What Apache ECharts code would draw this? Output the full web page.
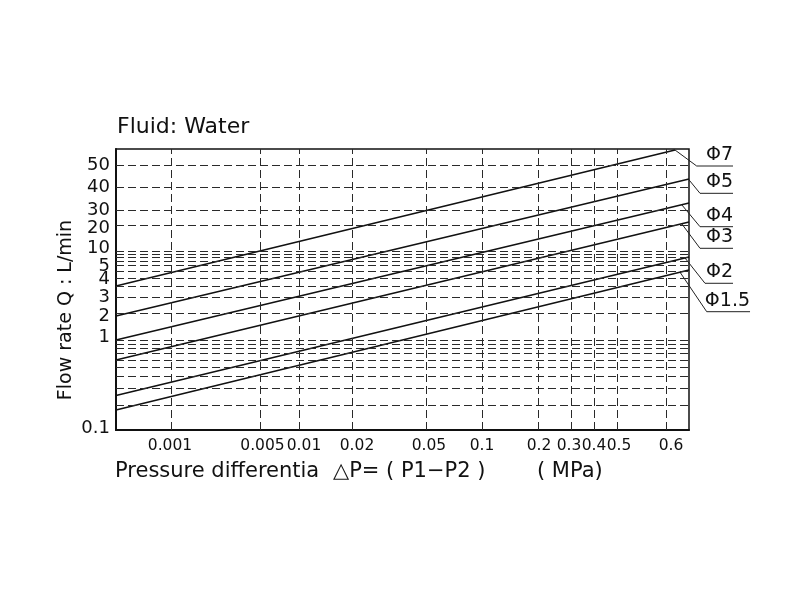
<!DOCTYPE html>
<html><head><meta charset="utf-8">
<script src="https://cdn.jsdelivr.net/npm/echarts@6/dist/echarts.min.js"></script>
<style>html,body{margin:0;padding:0;background:#fff}#c{width:800px;height:600px}</style>
</head><body><div id="c"></div>
<script>
// Chart position scale: both axes run 0..100 across the (non-uniform) printed grid.
const seriesNames = ['Φ7', 'Φ5', 'Φ4', 'Φ3', 'Φ2', 'Φ1.5'];
const lineFrom = [[0, 51.25], [0, 40.57], [0, 32.03], [0, 24.91], [0, 12.28], [0, 7.12]];
const lineTo = [[97.56, 99.64], [100, 89.32], [100, 80.78], [100, 74.02], [100, 61.57], [100, 56.94]];
const leaderStartX = [97.56, 99.9, 98.73, 98.73, 99.3, 98.43];
const leaderElbow = [[101.34, 93.95], [101.92, 84.23], [101.92, 72.35], [101.92, 64.66], [102.79, 52.21], [103.09, 42.10]];
const leaderEndX = [107.68, 107.68, 107.68, 107.68, 107.68, 110.65];

const xTickLabels = ['0.001', '0.005', '0.01', '0.02', '0.05', '0.1', '0.2', '0.3', '0.4', '0.5', '0.6'];
const xLabelPos = [9.42, 25.57, 32.81, 42.06, 54.62, 63.87, 73.82, 79.06, 83.42, 87.78, 96.86];
const xGridPos = [9.72, 25.13, 32.02, 41.19, 54.22, 64.0, 73.7, 79.41, 83.42, 87.49, 96.11];

const yTickLabels = ['50', '40', '30', '20', '10', '5', '4', '3', '2', '1', '0.1'];
const yTickPos = [94.31, 86.48, 78.29, 71.89, 64.77, 58.36, 53.74, 47.33, 40.57, 33.10, 0.7];
const yGridPos = [94.31, 86.23, 78.29, 72.95, 63.70, 62.53, 61.32, 60.14, 58.72, 56.33, 53.99, 51.0, 47.08, 41.53,
  32.03, 30.60, 29.07, 27.30, 24.91, 22.31, 18.97, 14.84, 8.90];

const FONT = '"DejaVu Sans", sans-serif';
const chart = echarts.init(document.getElementById('c'), null, { renderer: 'canvas' });

function lookup(vals, labels) {
  return function (v) {
    let best = 0, d = Infinity;
    vals.forEach((p, i) => { const dd = Math.abs(p - v); if (dd < d) { d = dd; best = i; } });
    return d < 0.05 ? labels[best] : '';
  };
}
function yOnLine(i, x) {
  const a = lineFrom[i], b = lineTo[i];
  return a[1] + (b[1] - a[1]) * (x - a[0]) / (b[0] - a[0]);
}

const gridLineStyle = { color: '#2a2a2a', width: 1, type: [8, 4] };
const series = [];
series.push({
  type: 'line', name: 'grid', data: [], silent: true, animation: false,
  markLine: {
    silent: true, animation: false, symbol: ['none', 'none'], label: { show: false },
    lineStyle: gridLineStyle,
    data: xGridPos.map(v => ({ xAxis: v })).concat(yGridPos.map(v => ({ yAxis: v })))
  }
});
seriesNames.forEach((n, i) => {
  series.push({
    type: 'line', name: n, data: [lineFrom[i], lineTo[i]], symbol: 'none', silent: true, animation: false,
    lineStyle: { color: '#111', width: 1.7 }
  });
});

chart.setOption({
  backgroundColor: '#fff',
  animation: false,
  grid: { left: 116, top: 149, width: 573, height: 281, show: true, borderColor: '#111', borderWidth: 1.5 },
  xAxis: {
    type: 'value', min: 0, max: 100,
    axisLine: { show: true, lineStyle: { color: '#111', width: 2 } },
    axisTick: { show: false }, splitLine: { show: false },
    axisLabel: {
      customValues: xLabelPos, formatter: lookup(xLabelPos, xTickLabels), hideOverlap: false,
      color: '#111', fontFamily: FONT, fontSize: 15.5, margin: 8
    }
  },
  yAxis: {
    type: 'value', min: 0, max: 100,
    axisLine: { show: true, lineStyle: { color: '#111', width: 2 } },
    axisTick: { show: false }, splitLine: { show: false },
    axisLabel: {
      customValues: yTickPos, formatter: lookup(yTickPos, yTickLabels), hideOverlap: false,
      color: '#111', fontFamily: FONT, fontSize: 18, margin: 6
    }
  },
  series: series
});

const gfx = [
  { type: 'text', x: 117, y: 127, style: { text: 'Fluid: Water', font: '22px ' + FONT, fill: '#111', align: 'left', verticalAlign: 'middle' } },
  { type: 'text', x: 66, y: 310, rotation: Math.PI / 2, style: { text: 'Flow rate Q : L/min', font: '19px ' + FONT, fill: '#111', align: 'center', verticalAlign: 'middle' } },
  { type: 'text', x: 115, y: 472, style: { text: 'Pressure differentia', font: '21px ' + FONT, fill: '#111', align: 'left', verticalAlign: 'middle' } },
  { type: 'text', x: 333, y: 472, style: { text: '△P= ( P1−P2 )', font: '21px ' + FONT, fill: '#111', align: 'left', verticalAlign: 'middle' } },
  { type: 'text', x: 537, y: 472, style: { text: '( MPa)', font: '21px ' + FONT, fill: '#111', align: 'left', verticalAlign: 'middle' } }
];
const px = (pt) => chart.convertToPixel({ gridIndex: 0 }, pt);
seriesNames.forEach((n, i) => {
  const p0 = px([leaderStartX[i], yOnLine(i, leaderStartX[i])]);
  const p1 = px(leaderElbow[i]);
  const p2 = px([leaderEndX[i], leaderElbow[i][1]]);
  gfx.push({ type: 'polyline', silent: true, shape: { points: [p0, p1, p2] }, style: { stroke: '#222', lineWidth: 1, fill: null } });
  gfx.push({ type: 'text', x: p2[0], y: p2[1] - 11, style: { text: n, font: '19px ' + FONT, fill: '#111', align: 'right', verticalAlign: 'middle' } });
});
chart.setOption({ graphic: gfx });
</script>
</body></html>
